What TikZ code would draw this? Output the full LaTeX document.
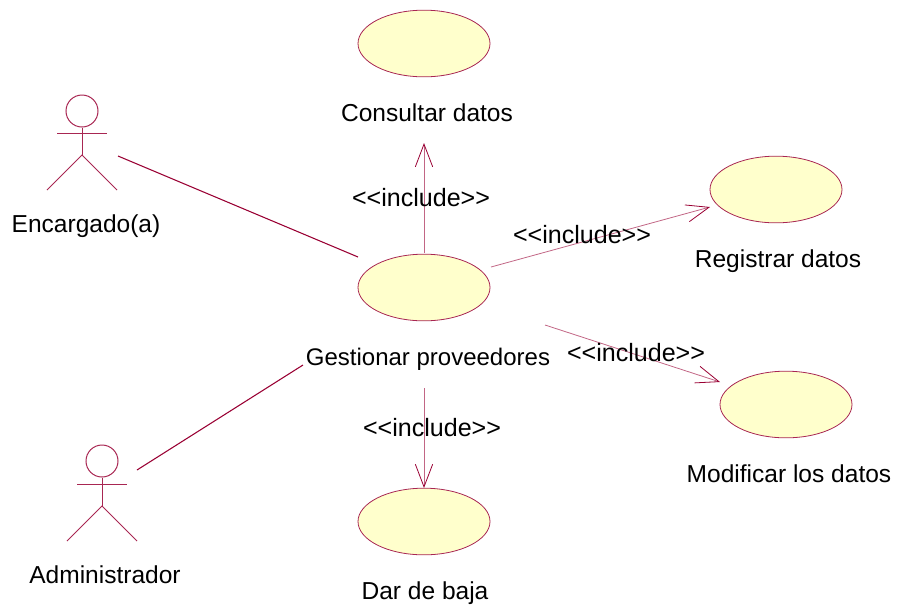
\documentclass[tikz,border=0pt]{standalone}
\usepackage{fontspec}
\setmainfont{Liberation Sans}
\usepackage{xcolor}
\usetikzlibrary{shapes,arrows.meta}
\definecolor{umlline}{HTML}{990033}
\definecolor{umlfill}{HTML}{FFFFCC}

\begin{document}
\begin{tikzpicture}[
	x=0.75pt, y=-0.75pt,
	>={Straight Barb[length=17pt,width=13pt,color=umlline]},
	usecase/.style={ellipse, draw=umlline!85, fill=umlfill, line width=0.6pt, minimum width=99pt, minimum height=50pt, inner sep=0pt},
	actorline/.style={draw=umlline!85, line width=0.75pt},
	assoc/.style={draw=umlline, line width=0.8pt},
	dep/.style={draw=umlline!60, line width=0.6pt, ->},
	lbl/.style={inner sep=0pt, font=\fontsize{18.4}{22}\selectfont},
	inclbl/.style={inner sep=0pt, font=\fontsize{18.8}{22}\selectfont}]
	\useasboundingbox (0,0) rectangle (898,608);
	% use cases
	\node[usecase] (consultar) at (424,43.5) {};
	\node[usecase] (gestionar) at (424,287.5) {};
	\node[usecase] (registrar) at (776,189.5) {};
	\node[usecase] (modificar) at (786,404.5) {};
	\node[usecase] (baja) at (424,521.5) {};
	\node[lbl] (consultarl) at (427,113) {Consultar datos};
	\node[lbl, font=\fontsize{18}{22}\selectfont] (gestionarl) at (428,359) {Gestionar proveedores};
	\node[lbl] (registrarl) at (778,261) {Registrar datos};
	\node[lbl] (modificarl) at (789,474) {Modificar los datos};
	\node[lbl] (bajal) at (425,593) {Dar de baja};
	% actors
	\begin{scope}[shift={(82,111)}]
		\node[circle, actorline, minimum size=24pt, inner sep=0pt] (encargado) at (0,0) {};
		\draw[actorline] (encargado.south) -- (0,44);
		\draw[actorline] (-25,22) -- (25,22);
		\draw[actorline] (-35,79) -- (0,44) -- (35,79);
	\end{scope}
	\begin{scope}[shift={(102,461)}]
		\node[circle, actorline, minimum size=24pt, inner sep=0pt] (admin) at (0,0) {};
		\draw[actorline] (admin.south) -- (0,45);
		\draw[actorline] (-25,23) -- (25,23);
		\draw[actorline] (-35,80) -- (0,45) -- (35,80);
	\end{scope}
	\node[lbl] (encargadol) at (86,226) {Encargado(a)};
	\node[lbl] (adminl) at (105,575) {Administrador};
	% connector ends
	\coordinate (encargadoe) at (118,156);
	\coordinate (gestionarw) at (358,257);
	\coordinate (adminE) at (137,470);
	\coordinate (gestionarsw) at (303,365);
	\coordinate (gestionarn) at (424,253);
	\coordinate (consultars) at (424,143);
	\coordinate (gestionare) at (491,267);
	\coordinate (registrarw) at (710,207);
	\coordinate (gestionarse) at (545,325);
	\coordinate (modificarw) at (720,382);
	\coordinate (gestionars) at (424,388);
	\coordinate (bajan) at (424,488);
	% connectors
	\draw[assoc] (encargadoe) -- (gestionarw);
	\draw[assoc] (adminE) -- (gestionarsw);
	\draw[dep] (gestionarn) -- (consultars);
	\draw[dep] (gestionare) -- (registrarw);
	\draw[dep] (gestionarse) -- (modificarw);
	\draw[dep] (gestionars) -- (bajan);
	\node[inclbl] (inc1) at (421,198) {<{}<include>{}>};
	\node[inclbl] (inc2) at (582,235) {<{}<include>{}>};
	\node[inclbl] (inc3) at (636,353) {<{}<include>{}>};
	\node[inclbl] (inc4) at (432,428) {<{}<include>{}>};
\end{tikzpicture}
\end{document}
